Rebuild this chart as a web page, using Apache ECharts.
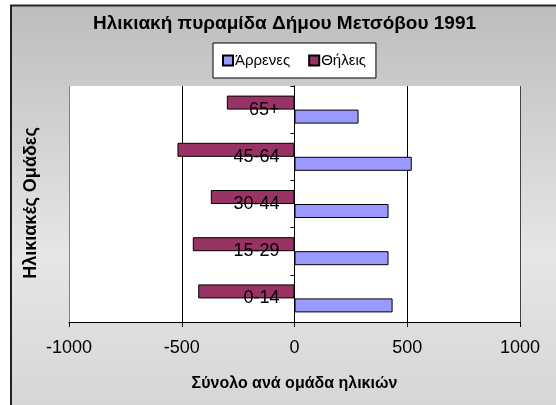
<!DOCTYPE html>
<html>
<head>
<meta charset="utf-8">
<script src="https://cdn.jsdelivr.net/npm/echarts@6/dist/echarts.min.js"></script>
<style>html,body{margin:0;padding:0;background:#fff}#c{width:556px;height:405px}</style>
</head>
<body>
<div id="c"></div>
<script>
var titleText = 'Ηλικιακή πυραμίδα Δήμου Μετσόβου 1991';
var categories = ['0-14', '15-29', '30-44', '45-64', '65+'];
var maleName = 'Άρρενες';
var femaleName = 'Θήλεις';
var maleValues = [435, 417, 417, 520, 284];
var femaleValues = [-427, -451, -371, -519, -300];
var xTicks = [-1000, -500, 0, 500, 1000];
var xTitle = 'Σύνολο ανά ομάδα ηλικιών';
var yTitle = 'Ηλικιακές Ομάδες';

var FONT = 'Arial, "Liberation Sans", sans-serif';
var chart = echarts.init(document.getElementById('c'), null, {renderer: 'canvas'});
chart.setOption({
  animation: false,
  backgroundColor: '#ffffff',
  graphic: [
    {type: 'rect', z: -10, silent: true,
     shape: {x: 11, y: 5.5, width: 600, height: 500},
     style: {
       fill: new echarts.graphic.LinearGradient(0, 0, 0, 1, [
         {offset: 0, color: '#bdbdbd'},
         {offset: 0.5, color: '#e6e6e6'},
         {offset: 0.8, color: '#d6d6d6'},
         {offset: 1, color: '#bababa'}
       ]),
       stroke: '#222', lineWidth: 2
     }},
    {type: 'text', z: 10, rotation: Math.PI / 2, x: 22, y: 203,
     style: {text: yTitle, font: 'bold 18px ' + FONT, fill: '#000', align: 'center', verticalAlign: 'top'}}
  ],
  title: {
    text: titleText, left: 93, top: 14, padding: 0,
    textStyle: {fontFamily: FONT, fontSize: 19, fontWeight: 'bold', color: '#000'}
  },
  legend: {
    data: [maleName, femaleName],
    left: 213, top: 43,
    padding: [10, 10, 10, 9],
    backgroundColor: '#ffffff', borderColor: '#000', borderWidth: 1,
    itemWidth: 10, itemHeight: 10, itemGap: 18,
    icon: 'rect',
    textStyle: {fontFamily: FONT, fontSize: 15, color: '#000', padding: [0, 0, 0, -3]}
  },
  grid: {left: 69, right: 36, top: 86, bottom: 83, show: true, backgroundColor: '#ffffff', borderWidth: 0},
  xAxis: {
    type: 'value', min: xTicks[0], max: xTicks[xTicks.length - 1], interval: 500,
    name: xTitle, nameLocation: 'middle', nameGap: 54,
    nameTextStyle: {fontFamily: FONT, fontSize: 16, fontWeight: 'bold', color: '#000'},
    axisLine: {show: true, lineStyle: {color: '#000', width: 1}},
    axisTick: {show: true, length: 5, lineStyle: {color: '#000'}},
    axisLabel: {fontFamily: FONT, fontSize: 18, color: '#000', margin: 17,
                formatter: function (v) { return String(v); }},
    splitLine: {show: true, lineStyle: {color: ['#808080', '#000', '#000', '#000', '#444'], width: 1}}
  },
  yAxis: {
    type: 'category', data: categories, z: 10,
    axisLine: {show: true, onZero: true, lineStyle: {color: '#000', width: 1}},
    axisTick: {show: true, length: 4, lineStyle: {color: '#000'}},
    axisLabel: {show: false},
    splitLine: {show: false}
  },
  series: [
    {name: femaleName, type: 'bar', data: femaleValues, barWidth: 14, barGap: '0%',
     itemStyle: {color: '#993366', borderColor: '#000', borderWidth: 1}},
    {name: maleName, type: 'bar', data: maleValues, barWidth: 14, barGap: '0%',
     itemStyle: {color: '#9999ff', borderColor: '#000', borderWidth: 1},
     label: {show: true, position: 'left', distance: 15, offset: [0, -7],
             fontFamily: FONT, fontSize: 18, color: '#000',
             formatter: function (p) { return p.name; }}}
  ]
});
</script>
</body>
</html>
